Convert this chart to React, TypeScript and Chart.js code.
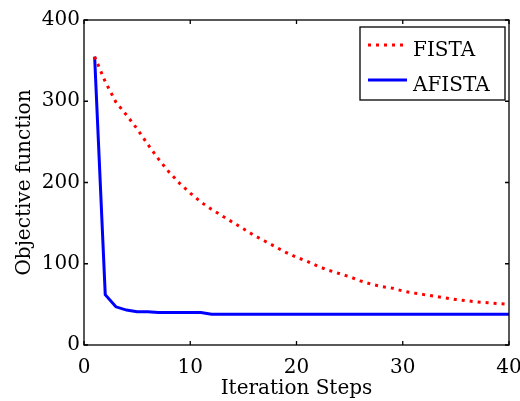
import React, { useEffect, useRef } from "react";
import { Chart, registerables } from "chart.js";

Chart.register(...registerables);

const iterations = [
  1, 2, 3, 4, 5, 6, 7, 8, 9, 10, 11, 12, 13, 14, 15, 16, 17, 18, 19, 20,
  21, 22, 23, 24, 25, 26, 27, 28, 29, 30, 31, 32, 33, 34, 35, 36, 37, 38, 39, 40,
];

const fista = [
  355, 324, 299, 283, 266, 247, 229, 213, 199, 187, 176, 167, 159, 151, 143,
  135, 128, 121, 114, 108, 103, 97, 92, 88, 84, 79, 75, 72, 70, 66.5, 64, 62,
  60, 58, 56, 54.5, 53, 52, 51, 50,
];

const afista = [
  355, 62, 47, 43, 41, 41, 40, 40, 40, 40, 40, 38, 38, 38, 38, 38, 38, 38, 38,
  38, 38, 38, 38, 38, 38, 38, 38, 38, 38, 38, 38, 38, 38, 38, 38, 38, 38, 38,
  38, 38,
];

const xTicks = [0, 10, 20, 30, 40];
const yTicks = [0, 100, 200, 300, 400];
const seriesNames = ["FISTA", "AFISTA"];

const FONT = "DejaVu Serif";
const FONT_SIZE = 20;

const framePlugin = {
  id: "frame",
  afterDraw(chart: any) {
    const { ctx, chartArea, scales } = chart;
    const { left, right, top, bottom } = chartArea;
    ctx.save();
    ctx.strokeStyle = "#000";
    ctx.lineWidth = 1.3;
    ctx.strokeRect(left, top, right - left, bottom - top);
    const tl = 4;
    ctx.beginPath();
    xTicks.forEach((v) => {
      const px = scales.x.getPixelForValue(v);
      ctx.moveTo(px, bottom);
      ctx.lineTo(px, bottom - tl);
      ctx.moveTo(px, top);
      ctx.lineTo(px, top + tl);
    });
    yTicks.forEach((v) => {
      const py = scales.y.getPixelForValue(v);
      ctx.moveTo(left, py);
      ctx.lineTo(left + tl, py);
      ctx.moveTo(right, py);
      ctx.lineTo(right - tl, py);
    });
    ctx.stroke();

    // legend
    const bx = right - 149;
    const by = top + 7;
    const bw = 145;
    const bh = 73;
    ctx.fillStyle = "#fff";
    ctx.fillRect(bx, by, bw, bh);
    ctx.lineWidth = 1.3;
    ctx.strokeStyle = "#000";
    ctx.strokeRect(bx, by, bw, bh);
    const ds = chart.data.datasets;
    const rows = [by + 18, by + 53];
    ds.forEach((d: any, i: number) => {
      const y = rows[i];
      ctx.beginPath();
      ctx.strokeStyle = d.borderColor;
      ctx.lineWidth = d.borderWidth;
      ctx.setLineDash(d.borderDash || []);
      ctx.moveTo(bx + 8, y);
      ctx.lineTo(bx + 47, y);
      ctx.stroke();
      ctx.setLineDash([]);
      ctx.fillStyle = "#000";
      ctx.font = `${FONT_SIZE}px "${FONT}"`;
      ctx.textBaseline = "alphabetic";
      ctx.textAlign = "left";
      ctx.fillText(d.label, bx + 53, y + 11);
    });
    ctx.restore();
  },
};

export default function App() {
  const ref = useRef<HTMLCanvasElement | null>(null);
  useEffect(() => {
    document.body.style.margin = "0";
    const canvas = ref.current;
    if (!canvas) return;
    const chart = new Chart(canvas, {
      type: "line",
      data: {
        datasets: [
          {
            label: seriesNames[0],
            data: iterations.map((x, i) => ({ x, y: fista[i] })),
            borderColor: "#ff0000",
            borderWidth: 3,
            borderDash: [3, 5],
            pointRadius: 0,
            tension: 0,
            fill: false,
          },
          {
            label: seriesNames[1],
            data: iterations.map((x, i) => ({ x, y: afista[i] })),
            borderColor: "#0000ff",
            borderWidth: 3,
            pointRadius: 0,
            tension: 0,
            fill: false,
          },
        ],
      },
      options: {
        animation: false,
        responsive: false,
        maintainAspectRatio: false,
        layout: { padding: { left: 0, top: 20, right: 11, bottom: 0 } },
        plugins: {
          legend: { display: false },
          tooltip: { enabled: false },
        },
        scales: {
          x: {
            type: "linear",
            min: 0,
            max: 40,
            afterBuildTicks: (scale: any) => {
              scale.ticks = xTicks.map((v) => ({ value: v }));
            },
            afterFit: (scale: any) => {
              scale.height = 56;
              scale.paddingLeft = 0;
              scale.paddingRight = 0;
            },
            grid: { display: false, drawTicks: false },
            border: { display: false },
            ticks: {
              color: "#000",
              padding: 11,
              maxRotation: 0,
              font: { family: FONT, size: FONT_SIZE },
            },
            title: {
              display: true,
              text: "Iteration Steps",
              color: "#000",
              font: { family: FONT, size: FONT_SIZE, lineHeight: 1 },
              padding: { top: 0, bottom: 2 },
            },
          },
          y: {
            type: "linear",
            min: 0,
            max: 400,
            afterBuildTicks: (scale: any) => {
              scale.ticks = yTicks.map((v) => ({ value: v }));
            },
            afterFit: (scale: any) => {
              scale.width = 84;
              scale.paddingTop = 0;
              scale.paddingBottom = 0;
            },
            grid: { display: false, drawTicks: false },
            border: { display: false },
            ticks: {
              color: "#000",
              padding: 4,
              font: { family: FONT, size: FONT_SIZE },
            },
            title: {
              display: true,
              text: "Objective function",
              color: "#000",
              font: { family: FONT, size: FONT_SIZE, lineHeight: 1 },
              padding: { top: 15, bottom: 0 },
            },
          },
        },
      },
      plugins: [framePlugin],
    });
    return () => chart.destroy();
  }, []);
  return (
    <div style={{ width: 520, height: 401 }}>
      <canvas ref={ref} width={520} height={401} style={{ display: "block" }} />
    </div>
  );
}
